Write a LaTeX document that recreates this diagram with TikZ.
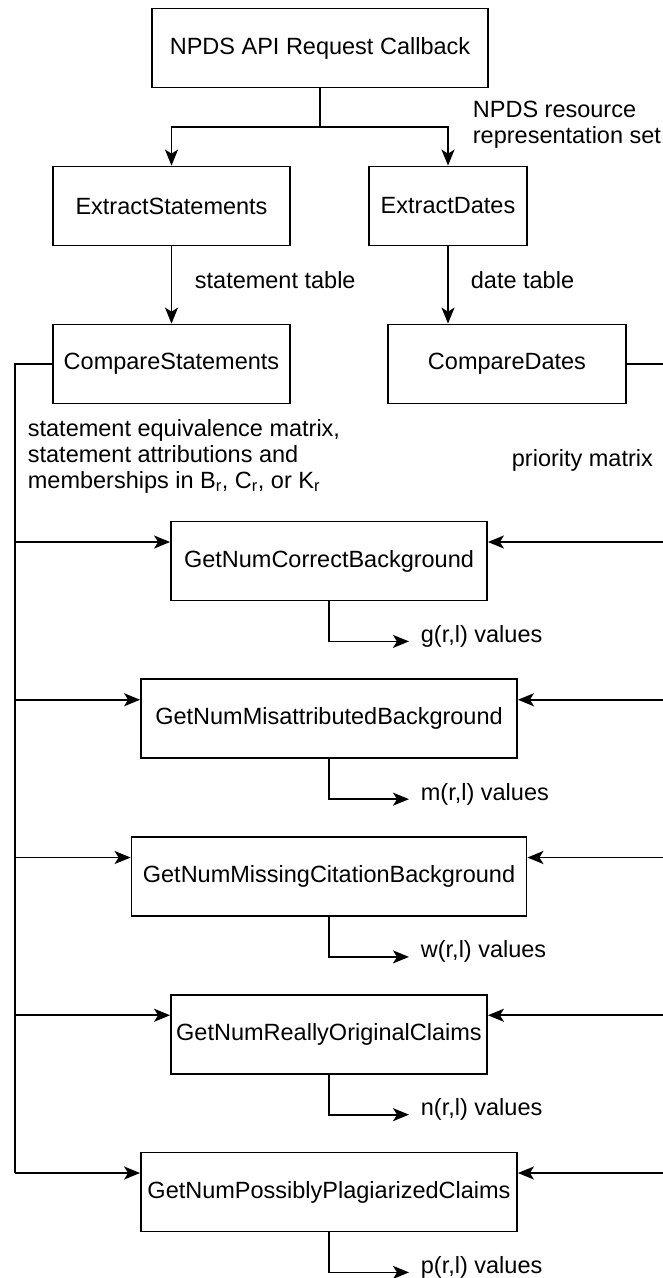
\documentclass[tikz,border=0pt]{standalone}
\usepackage{fontspec}
\setmainfont{Liberation Sans}
\usetikzlibrary{arrows.meta}
\begin{document}
\begin{tikzpicture}[x=1pt,y=-1pt,line width=1.8pt,>={Stealth[length=16pt,width=13pt,inset=4pt]},
	box/.style={draw,minimum height=79pt,inner sep=0pt,font=\fontsize{23.5}{26}\selectfont},
	lbl/.style={inner sep=0pt,anchor=west,align=left,font=\fontsize{23.5}{26}\selectfont}]
		\useasboundingbox (0,0) rectangle (662,1278);
		\node[box,minimum width=336pt] (npds) at (320,48) {NPDS API Request Callback};
		\node[box,minimum width=237pt] (exst) at (171.5,206) {ExtractStatements};
		\node[box,minimum width=158pt] (exdt) at (448,206) {ExtractDates};
		\node[box,minimum width=237pt] (cpst) at (171.5,364) {CompareStatements};
		\node[box,minimum width=238pt] (cpdt) at (507,364) {CompareDates};
		\coordinate (split) at (320,127);
		\coordinate (lb) at (15,0);
		\coordinate (rb) at (664,0);
		\draw (npds.south) -- (split);
		\draw[->] (split) -| (exst.north);
		\draw[->] (split) -| (exdt.north);
		\draw[->] (exst.south) -- (cpst.north);
		\draw[->] (exdt.south) -- (exdt.south |- cpdt.north);
		\node[lbl] (rrs) at (472,125) {NPDS resource\\representation set};
		\node[lbl] (stab) at (194,280) {statement table};
		\node[lbl] (dtab) at (470,280) {date table};
		\node[lbl] (sem) at (27,456) {statement equivalence matrix,\\statement attributions and\\memberships in B\textsubscript{r}, C\textsubscript{r}, or K\textsubscript{r}};
		\node[lbl] (prio) at (511,460) {priority matrix};
		\foreach \name/\txt/\bw/\k/\val in {gcb/GetNumCorrectBackground/316/0/g,
			gmb/GetNumMisattributedBackground/376/1/m,
			gwb/GetNumMissingCitationBackground/395/2/w,
			goc/GetNumReallyOriginalClaims/316/3/n,
			gpc/GetNumPossiblyPlagiarizedClaims/376/4/p}{
			\node[box,minimum width=\bw pt] (\name) at (329,{561+157.75*\k}) {\txt};
			\coordinate (\name L) at ([yshift=19pt]\name.west);
			\coordinate (\name R) at ([yshift=19pt]\name.east);
			\coordinate (\name O) at ([xshift=80pt,yshift=-40pt]\name.south);
			\draw[->] (lb |- \name L) -- (\name L);
			\draw[->] (rb |- \name R) -- (\name R);
			\draw[->] (\name.south) |- (\name O);
			\node[lbl] (\name V) at ([xshift=11pt,yshift=5pt]\name O) {\val(r,l) values};
		}
		\draw (cpst.west) -| (lb |- gpcL);
		\draw (cpdt.east) -| (rb |- gpcR);
\end{tikzpicture}
\end{document}
